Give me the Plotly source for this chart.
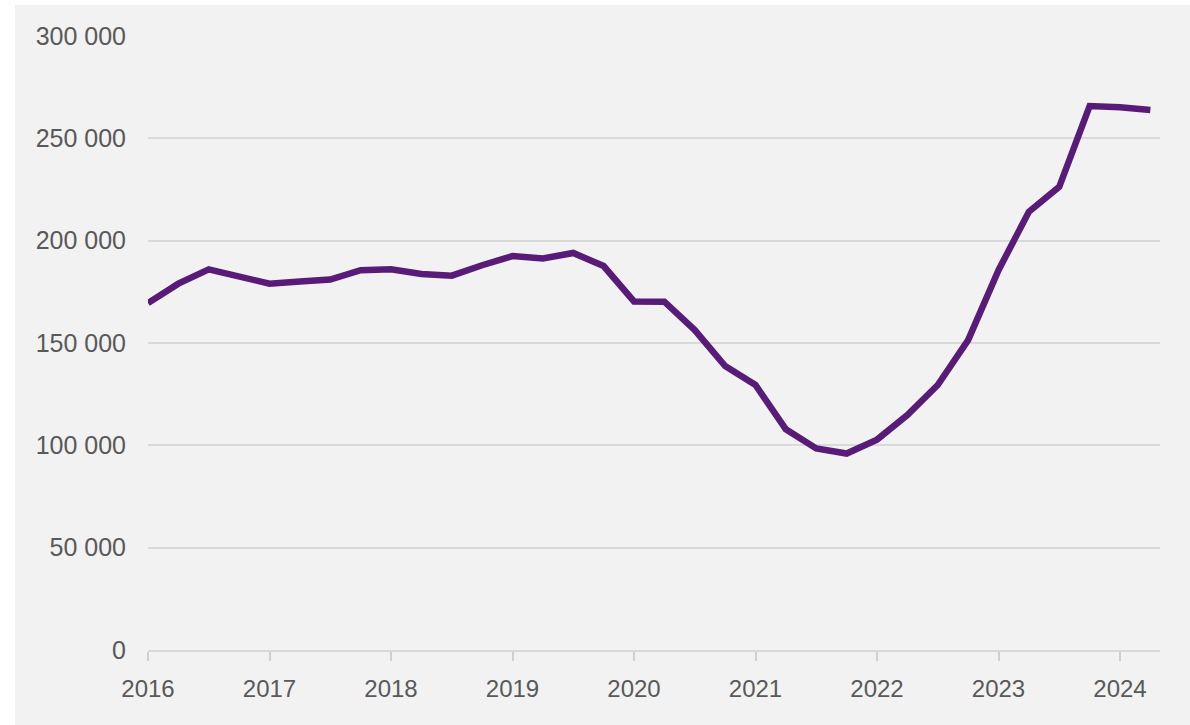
import plotly.graph_objects as go

# Quarterly data, 2016 Q1 .. 2024 Q2
quarters = [2016 + i * 0.25 for i in range(34)]
values = [
    169500, 179000, 186000, 182500,   # 2016
    179000, 180000, 181000, 185600,   # 2017
    186000, 183700, 182900, 188000,   # 2018
    192500, 191300, 194000, 187600,   # 2019
    170300, 170200, 156300, 138700,   # 2020
    129500, 107800, 98500, 96000,     # 2021
    102800, 114800, 129500, 151400,   # 2022
    185600, 214100, 226300, 265800,   # 2023
    265200, 263800,                   # 2024
]
year_ticks = list(range(2016, 2025))
y_ticks = [0, 50000, 100000, 150000, 200000, 250000, 300000]

FONT = "Liberation Sans, Arial, sans-serif"
BG = "#f2f2f2"
TXT = "#595959"

fig = go.Figure()
fig.add_trace(go.Scatter(
    x=quarters, y=values, mode="lines",
    line=dict(color="#581c78", width=6.5),
    hoverinfo="skip", showlegend=False,
))

fig.update_layout(
    width=1190, height=725,
    margin=dict(l=148, r=30, t=36, b=75),
    paper_bgcolor=BG, plot_bgcolor=BG,
    separators=", ",
    font=dict(family=FONT, size=25, color=TXT),
    showlegend=False,
    shapes=[
        dict(type="rect", xref="paper", yref="paper", x0=-0.3, x1=(15 - 148) / 1012,
             y0=-0.3, y1=1.3, fillcolor="white", line=dict(width=0), layer="below"),
        dict(type="rect", xref="paper", yref="paper", x0=-0.3, x1=1.3,
             y0=(650 - 5) / 614, y1=1.3, fillcolor="white", line=dict(width=0), layer="below"),
    ],
)

fig.update_xaxes(
    range=[2016, 2016 + (1160 - 148) / 121.5],
    tickvals=year_ticks, ticktext=[str(y) for y in year_ticks],
    showgrid=False, zeroline=False,
    showline=True, linecolor="#d9d9d9", linewidth=2,
    ticks="outside", ticklen=9, tickwidth=1.5, tickcolor="#d0d0d0",
    ticklabelstandoff=7,
    tickfont=dict(family=FONT, size=24, color=TXT),
)
fig.update_yaxes(
    range=[0, 300000],
    tickvals=y_ticks, tickformat=",d",
    showgrid=True, gridcolor="#d9d9d9", gridwidth=1.5,
    zeroline=False, showline=False,
    ticks="", ticklabelstandoff=21,
    tickfont=dict(family=FONT, size=25, color=TXT),
)

fig.write_html("out.html", config={"displayModeBar": False},
               post_script="document.body.style.margin='0';")
